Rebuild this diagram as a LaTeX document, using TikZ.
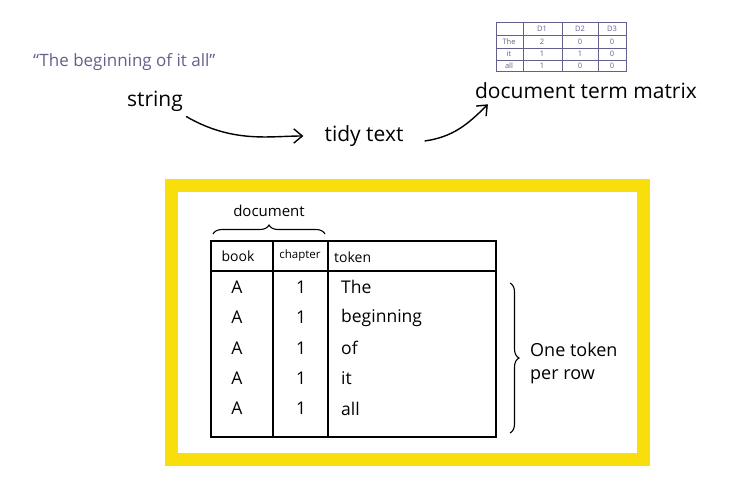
\documentclass[tikz,border=0pt]{standalone}
\usepackage{fontspec}
\setmainfont{Open Sans}
\usetikzlibrary{arrows.meta,positioning,decorations.pathreplacing,calc}
\definecolor{markeryellow}{RGB}{248,222,10}
\definecolor{quotegray}{RGB}{98,96,140}

\begin{document}
\begin{tikzpicture}[
  x=1pt, y=-1pt,
  lbl/.style={inner sep=1pt,font=\fontsize{21}{23}\selectfont},
  cell/.style={inner sep=0pt,font=\fontsize{17.5}{19}\selectfont},
  hdr/.style={inner sep=0pt,font=\fontsize{14}{16}\selectfont},
  tiny/.style={inner sep=0pt,text=quotegray,font=\fontsize{7.5}{8}\selectfont},
  arr/.style={-{Straight Barb[length=3mm,width=5mm]},line width=1.4pt},
  rule/.style={line width=1.2pt},
  brc/.style={decorate,decoration={brace,amplitude=9pt},line width=1.1pt}
]
\useasboundingbox (0,0) rectangle (747,498);

% top line: string -> tidy text -> dtm
\node[inner sep=0pt,text=quotegray,font=\fontsize{17}{19}\selectfont,anchor=west] (quote) at (33,62) {“The beginning of it all”};
\node[lbl] (str) at (155,101) {string};
\node[lbl] (tidy) at (364,136) {tidy text};
\node[lbl] (dtm) at (586,91) {document term matrix};

\draw[arr,shorten >=20pt] (str.south east) ++(2,4) coordinate (s1) to[out=-30,in=180] (tidy.west);
\draw[arr] (tidy.east) ++(20,5) coordinate (t1) to[out=8,in=225] ($(dtm.south west)+(14,4)$);

% small matrix
\draw[quotegray,line width=0.9pt] (496,22) rectangle (626,71);
\foreach \x in {523,562,598} \draw[quotegray,line width=0.9pt] (\x,22) -- (\x,71);
\foreach \y in {35,48,60} \draw[quotegray,line width=0.9pt] (496,\y) -- (626,\y);
\node[tiny] (d1) at (542,28.5) {D1};
\node[tiny] (d2) at (580,28.5) {D2};
\node[tiny] (d3) at (612,28.5) {D3};
\node[tiny] (wthe) at (509,41.5) {The};
\node[tiny] (wit) at (509,54) {it};
\node[tiny] (wall) at (509,65.5) {all};
\node[tiny] at (542,41.5) {2};
\node[tiny] at (580,41.5) {0};
\node[tiny] at (612,41.5) {0};
\node[tiny] at (542,54) {1};
\node[tiny] at (580,54) {1};
\node[tiny] at (612,54) {0};
\node[tiny] at (542,65.5) {1};
\node[tiny] at (580,65.5) {0};
\node[tiny] at (612,65.5) {0};

% yellow frame
\draw[markeryellow,line width=13pt] (171,185) rectangle (643,459);

% tidy table
\draw[rule] (211,241) rectangle (496,437);
\draw[rule] (211,271) -- (496,271);
\draw[rule] (273,241) -- (273,437);
\draw[rule] (328,241) -- (328,437);
\node[hdr] (book) at (238,256) {book};
\node[hdr,font=\fontsize{11.5}{13}\selectfont] (chap) at (300,256) {chapter};
\node[hdr,anchor=west] (tok) at (334,257) {token};

\foreach \w [count=\i] in {The,beginning,of,it,all} {
  \node[cell] (b\i) at (237,257+\i*30.3) {A};
  \node[cell] (c\i) at (301,257+\i*30.3) {1};
  \node[cell,anchor=west] (t\i) at (341,257+\i*30.3) {\w};
}

% braces
\draw[brc] (213,234) -- (325,234) node[midway,above=17pt,hdr,font=\fontsize{15}{17}\selectfont] (doc) {document};
\draw[brc] (510,283) -- (510,433) coordinate[midway] (mid);
\node[cell,anchor=west,align=left,font=\fontsize{18}{23}\selectfont] (per) at (530,363) {One token\\per row};
\end{tikzpicture}
\end{document}
